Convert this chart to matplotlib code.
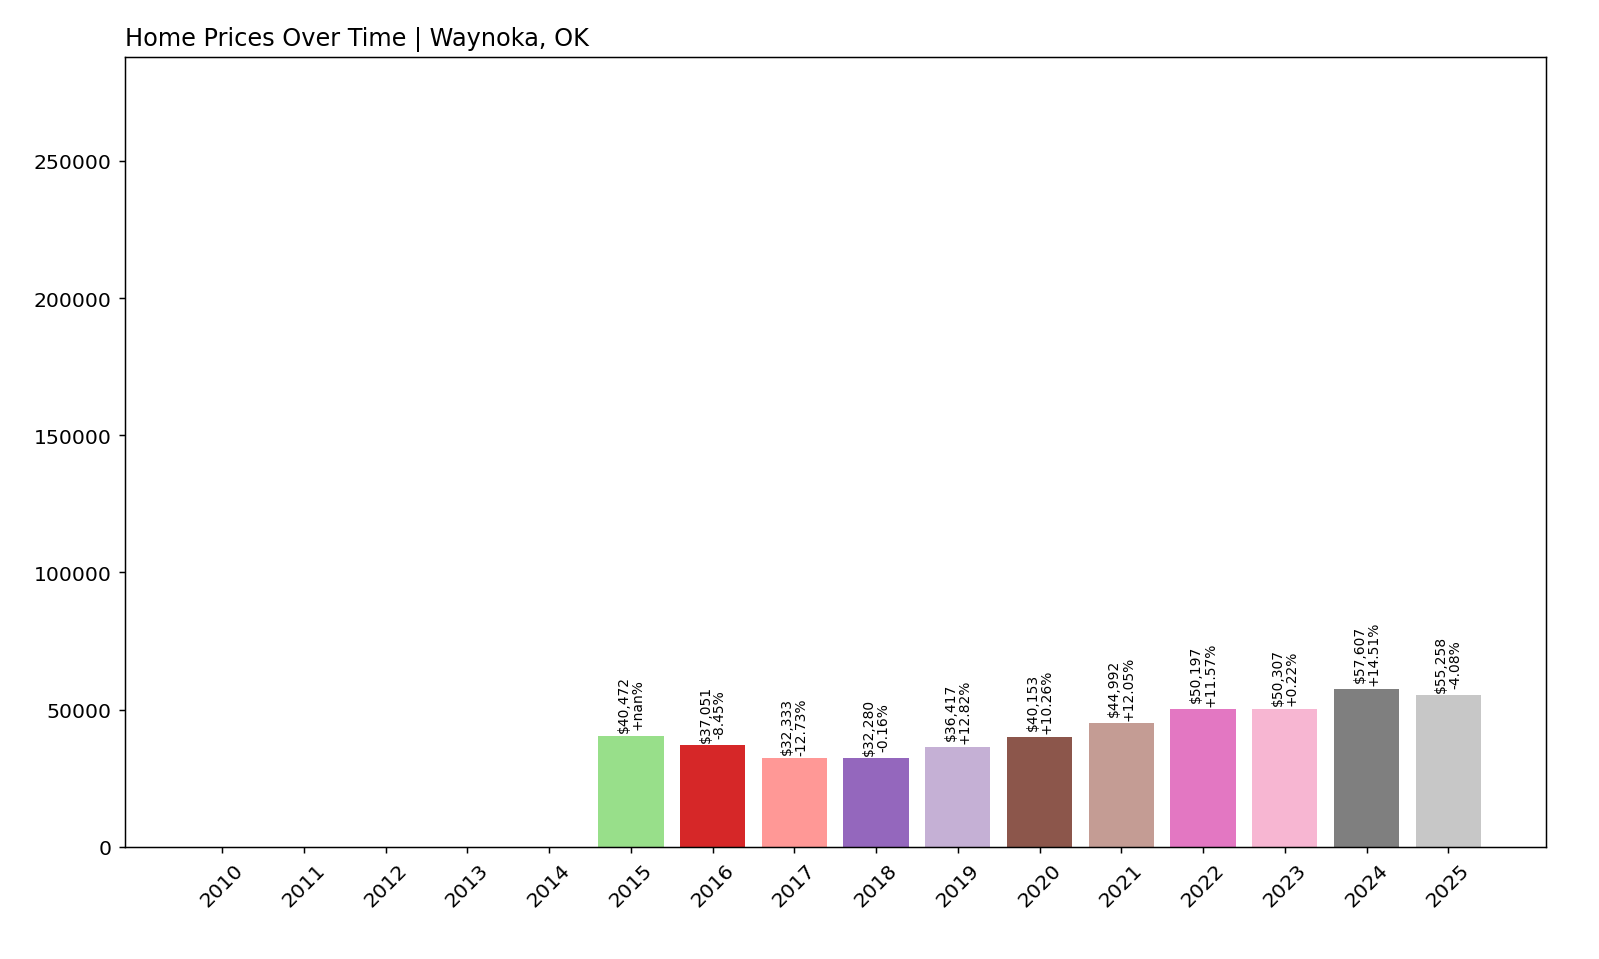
import matplotlib
matplotlib.use("Agg")
import matplotlib.pyplot as plt
import numpy as np

years = [str(y) for y in range(2010, 2026)]
prices = [0, 0, 0, 0, 0, 40472, 37051, 32333, 32280, 36417, 40153, 44992, 50197, 50307, 57607, 55258]
changes = [None, None, None, None, None, "+nan%", "-8.45%", "-12.73%", "-0.16%", "+12.82%",
           "+10.26%", "+12.05%", "+11.57%", "+0.22%", "+14.51%", "-4.08%"]

colors = plt.cm.tab20(np.arange(len(years)))
plt.rcParams["font.size"] = 11

fig, ax = plt.subplots(figsize=(12, 7.2), dpi=133.33)
bars = ax.bar(years, prices, color=colors)
for bar, p, c in zip(bars, prices, changes):
    if c is None:
        continue
    ax.text(bar.get_x() + bar.get_width() / 2, p + 1200, f"${p:,}\n{c}",
            ha="center", va="bottom", rotation=90, fontsize=7.5, linespacing=1.0)

ax.set_ylim(0, max(prices) * 5)
ax.set_title("Home Prices Over Time | Waynoka, OK", loc="left", fontsize=13)
plt.xticks(rotation=45)
plt.subplots_adjust(left=0.078, right=0.966, top=0.94, bottom=0.117)
fig.savefig("out.png")
